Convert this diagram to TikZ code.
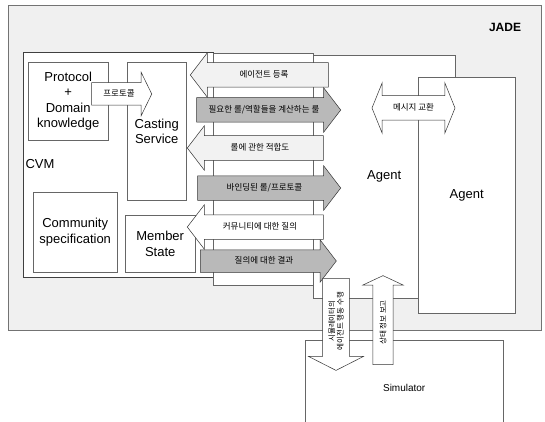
\documentclass[tikz,border=0pt]{standalone}
\usepackage{fontspec}
\setmainfont{Liberation Sans}
\newfontfamily\kr{Noto Sans CJK KR}
\usetikzlibrary{shapes.arrows}
\tikzstyle{frame} = [
    rectangle,
    anchor=north west,
    draw=black!75,
    fill=white,
    line width=0.7pt,
    inner sep=0pt
]
\tikzstyle{box} = [
    rectangle,
    anchor=north west,
    draw=black!60,
    fill=white,
    line width=0.4pt,
    inner sep=0pt,
    align=center,
    font=\fontsize{13}{15.5}\selectfont
]
\tikzstyle{flow} = [
    single arrow,
    draw=black!80,
    line width=0.5pt,
    inner xsep=0pt,
    inner ysep=8pt,
    text height=6.5pt,
    text depth=1.5pt,
    single arrow head extend=10pt,
    single arrow tip angle=105,
    font=\kr\fontsize{8.5}{10}\selectfont
]
\tikzstyle{lightflow} = [flow, fill=gray!10]
\tikzstyle{darkflow} = [flow, fill=gray!55]
\tikzstyle{upright} = [
    single arrow,
    draw=black!80,
    fill=white,
    line width=0.5pt,
    rotate=90,
    align=center,
    inner xsep=0pt,
    single arrow tip angle=126,
    font=\kr\fontsize{7.5}{8.5}\selectfont
]

\begin{document}
\begin{tikzpicture}[x=1pt, y=-1pt]
    \useasboundingbox (0,0) rectangle (545,422);
    \node[frame, fill=gray!12, draw=black!55, line width=0.5pt,
        minimum width=533pt, minimum height=325pt] (jade) at (8,5) {};
    \node[font=\bfseries\fontsize{12}{14}\selectfont] (jadelbl) at (505,27) {JADE};
    \node[frame, minimum width=190pt, minimum height=225pt] (cvm) at (23,52) {};
    \node[font=\fontsize{13}{15}\selectfont] (cvmlbl) at (40,164) {CVM};
    \node[box, minimum width=80pt, minimum height=78pt] (proto) at (28,62)
        {Protocol\\+\\Domain\\knowledge};
    \node[box, minimum width=59pt, minimum height=138pt] (cast) at (127,62)
        {Casting\\Service};
    \node[box, minimum width=84pt, minimum height=80pt] (comm) at (33,192)
        {Community\\specification};
    \node[box, minimum width=70pt, minimum height=57pt] (member) at (125,215)
        {Member\\State};
    \node[box, minimum width=100pt, minimum height=232pt] (strip) at (213,53) {};
    \node[box, minimum width=142pt, minimum height=243pt] (agentA) at (313,55) {Agent};
    \node[box, minimum width=97pt, minimum height=236pt] (agentB) at (418,77) {Agent};
    \node[box, minimum width=198pt, minimum height=95pt,
        font=\fontsize{10}{12}\selectfont] (sim) at (305,340) {Simulator};

    \node[flow, fill=white, inner ysep=7pt, single arrow head extend=10.5pt,
        single arrow tip angle=128, minimum height=60pt] (protoflow)
        at (119,94) {프로토콜};
    \node[lightflow, shape border rotate=180, minimum height=138pt] (register)
        at (264,75) {에이전트 등록};
    \node[darkflow, minimum height=144pt] (rolecalc)
        at (264,110) {필요한 롤/역할들을 계산하는 룰};
    \node[lightflow, shape border rotate=180, minimum height=136pt] (fitness)
        at (260,148) {롤에 관한 적합도};
    \node[darkflow, minimum height=143pt] (binding)
        at (264.5,188) {바인딩된 롤/프로토콜};
    \node[flow, fill=white, shape border rotate=180, minimum height=136pt] (query)
        at (260,227) {커뮤니티에 대한 질의};
    \node[darkflow, inner ysep=7pt, minimum height=136pt] (answer)
        at (264,261) {질의에 대한 결과};
    \node[double arrow, draw=black!80, fill=white, line width=0.5pt,
        inner xsep=0pt, inner ysep=8pt, text height=6.5pt, text depth=1.5pt,
        double arrow tip angle=136, minimum height=83pt,
        double arrow head extend=13pt, font=\kr\fontsize{8.5}{10}\selectfont]
        (message) at (413.5,108) {메시지 교환};
    \node[upright, shape border rotate=180, inner ysep=5.5pt,
        single arrow head extend=14pt, minimum height=92pt] (simdown)
        at (336,321) {시뮬레이터의\\에이전트 행동 수행};
    \node[upright, inner ysep=6.5pt, single arrow head extend=10pt,
        single arrow tip angle=130, minimum height=89pt] (simup)
        at (383,322.5) {상태 정보 보고};
\end{tikzpicture}
\end{document}
